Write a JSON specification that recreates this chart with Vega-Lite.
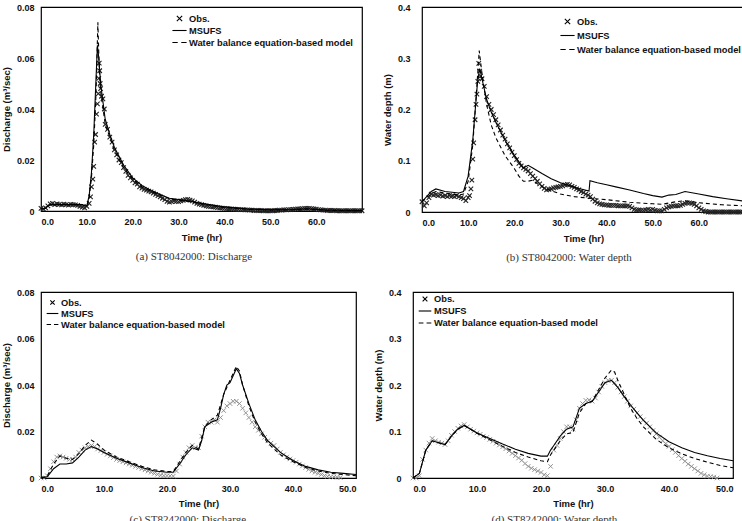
{
  "$schema": "https://vega.github.io/schema/vega-lite/v6.json",
  "background": "white",
  "padding": {"left": 0, "top": 2, "right": 0, "bottom": 0},
  "spacing": 23,
  "resolve": {"scale": {"shape": "independent"}, "legend": {"shape": "independent"}},
  "config": {
    "font": "Liberation Sans",
    "view": {"stroke": "black", "strokeWidth": 1.2},
    "axis": {"labelFont": "Liberation Sans", "labelFontWeight": "bold", "labelFontSize": 9, "labelColor": "#111", "titleFont": "Liberation Sans", "titleFontWeight": "bold", "titleFontSize": 9.5, "titleColor": "#111", "ticks": false, "domain": false, "grid": false},
    "legend": {"labelFont": "Liberation Sans", "labelFontWeight": "bold", "labelFontSize": 9.3, "labelColor": "#111", "labelLimit": 300, "labelOffset": 3, "symbolStrokeColor": "black", "symbolStrokeWidth": 1.1, "padding": 0, "rowPadding": 0, "title": null},
    "title": {"font": "Liberation Serif", "fontSize": 11, "fontWeight": "normal", "color": "#333", "orient": "bottom", "frame": "bounds", "anchor": "middle", "offset": 9}
  },
  "datasets": {
    "a_obs": [
      {"t":0,"v":0.001},{"t":0.5,"v":0.0008},{"t":1,"v":0.0012},{"t":1.5,"v":0.002},{"t":2,"v":0.0028},{"t":2.5,"v":0.003},{"t":3,"v":0.0025},{"t":3.5,"v":0.0028},{"t":4,"v":0.0026},{"t":4.5,"v":0.0024},{"t":5,"v":0.0027},{"t":5.5,"v":0.0025},{"t":6,"v":0.0023},{"t":6.5,"v":0.0026},{"t":7,"v":0.0025},{"t":7.5,"v":0.0024},{"t":8,"v":0.0022},{"t":8.5,"v":0.0018},{"t":9,"v":0.0015},{"t":9.5,"v":0.0012},{"t":10,"v":0.0018},{"t":10.5,"v":0.003},{"t":10.8,"v":0.0055},{"t":11,"v":0.0095},{"t":11.3,"v":0.0125},{"t":11.5,"v":0.0175},{"t":11.7,"v":0.027},{"t":11.9,"v":0.03},{"t":12.1,"v":0.038},{"t":12.3,"v":0.042},{"t":12.5,"v":0.046},{"t":12.6,"v":0.052},{"t":12.7,"v":0.058},{"t":12.8,"v":0.055},{"t":12.9,"v":0.05},{"t":13,"v":0.048},{"t":13.2,"v":0.045},{"t":13.5,"v":0.044},{"t":13.8,"v":0.04},{"t":14,"v":0.034},{"t":14.5,"v":0.032},{"t":15,"v":0.029},{"t":15.5,"v":0.027},{"t":16,"v":0.024},{"t":16.5,"v":0.022},{"t":17,"v":0.02},{"t":17.5,"v":0.019},{"t":18,"v":0.017},{"t":18.5,"v":0.0155},{"t":19,"v":0.014},{"t":19.5,"v":0.013},{"t":20,"v":0.012},{"t":20.5,"v":0.011},{"t":21,"v":0.0105},{"t":21.5,"v":0.0095},{"t":22,"v":0.009},{"t":22.5,"v":0.0085},{"t":23,"v":0.0082},{"t":23.5,"v":0.0078},{"t":24,"v":0.0075},{"t":24.5,"v":0.007},{"t":25,"v":0.0065},{"t":25.5,"v":0.006},{"t":26,"v":0.0055},{"t":26.5,"v":0.005},{"t":27,"v":0.0045},{"t":27.5,"v":0.0038},{"t":28,"v":0.0035},{"t":28.5,"v":0.0037},{"t":29,"v":0.004},{"t":29.5,"v":0.0038},{"t":30,"v":0.0037},{"t":30.5,"v":0.004},{"t":31,"v":0.0042},{"t":31.5,"v":0.0045},{"t":32,"v":0.0046},{"t":32.5,"v":0.0043},{"t":33,"v":0.004},{"t":33.5,"v":0.0035},{"t":34,"v":0.003},{"t":34.5,"v":0.0027},{"t":35,"v":0.0025},{"t":35.5,"v":0.0022},{"t":36,"v":0.002},{"t":36.5,"v":0.0018},{"t":37,"v":0.0017},{"t":37.5,"v":0.0016},{"t":38,"v":0.0015},{"t":38.5,"v":0.0013},{"t":39,"v":0.0012},{"t":39.5,"v":0.0011},{"t":40,"v":0.001},{"t":40.5,"v":0.0009},{"t":41,"v":0.0008},{"t":41.5,"v":0.0008},{"t":42,"v":0.0007},{"t":42.5,"v":0.0006},{"t":43,"v":0.0006},{"t":43.5,"v":0.0005},{"t":44,"v":0.0005},{"t":44.5,"v":0.0004},{"t":45,"v":0.0004},{"t":45.5,"v":0.0003},{"t":46,"v":0.0003},{"t":46.5,"v":0.0002},{"t":47,"v":0.0002},{"t":47.5,"v":0.0002},{"t":48,"v":0.0002},{"t":48.5,"v":0.0001},{"t":49,"v":0.0001},{"t":49.5,"v":0.0001},{"t":50,"v":0.0001},{"t":50.5,"v":0.0001},{"t":51,"v":0.0002},{"t":51.5,"v":0.0002},{"t":52,"v":0.0003},{"t":52.5,"v":0.0003},{"t":53,"v":0.0004},{"t":53.5,"v":0.0004},{"t":54,"v":0.0005},{"t":54.5,"v":0.0005},{"t":55,"v":0.0006},{"t":55.5,"v":0.0007},{"t":56,"v":0.0008},{"t":56.5,"v":0.0008},{"t":57,"v":0.0009},{"t":57.5,"v":0.001},{"t":58,"v":0.001},{"t":58.5,"v":0.001},{"t":59,"v":0.0009},{"t":59.5,"v":0.0008},{"t":60,"v":0.0007},{"t":60.5,"v":0.0005},{"t":61,"v":0.0004},{"t":61.5,"v":0.0003},{"t":62,"v":0.0003},{"t":62.5,"v":0.0002},{"t":63,"v":0.0002},{"t":63.5,"v":0.0002},{"t":64,"v":0.0002},{"t":64.5,"v":0.0001},{"t":65,"v":0.0001},{"t":65.5,"v":0.0001},{"t":66,"v":0.0001},{"t":66.5,"v":0.0001},{"t":67,"v":0.0001},{"t":67.5,"v":0.0001},{"t":68,"v":0.0001},{"t":68.5,"v":0.0001},{"t":69,"v":0.0001},{"t":69.5,"v":0.0001},{"t":70,"v":0.0001}
    ],
    "a_ms": [
      {"t":0,"v":0.001},{"t":1,"v":0.001},{"t":1.5,"v":0.002},{"t":2,"v":0.0025},{"t":9,"v":0.0025},{"t":9.5,"v":0.002},{"t":10,"v":0.002},{"t":10.5,"v":0.006},{"t":11,"v":0.015},{"t":11.5,"v":0.03},{"t":12,"v":0.052},{"t":12.3,"v":0.065},{"t":12.6,"v":0.06},{"t":13,"v":0.05},{"t":14,"v":0.036},{"t":15,"v":0.03},{"t":16,"v":0.025},{"t":18,"v":0.018},{"t":20,"v":0.013},{"t":22,"v":0.01},{"t":24,"v":0.008},{"t":26,"v":0.0065},{"t":28,"v":0.005},{"t":30,"v":0.0045},{"t":32,"v":0.004},{"t":35,"v":0.003},{"t":40,"v":0.0016},{"t":45,"v":0.0008},{"t":50,"v":0.0005},{"t":55,"v":0.0006},{"t":58,"v":0.0009},{"t":62,"v":0.0004},{"t":70,"v":0.0002}
    ],
    "a_wb": [
      {"t":0,"v":0.001},{"t":1,"v":0.001},{"t":1.5,"v":0.002},{"t":2,"v":0.0025},{"t":9,"v":0.0025},{"t":9.5,"v":0.002},{"t":10,"v":0.002},{"t":10.5,"v":0.005},{"t":11,"v":0.013},{"t":11.5,"v":0.026},{"t":12,"v":0.046},{"t":12.4,"v":0.074},{"t":12.7,"v":0.056},{"t":13,"v":0.047},{"t":14,"v":0.034},{"t":15,"v":0.029},{"t":16,"v":0.024},{"t":18,"v":0.017},{"t":20,"v":0.0125},{"t":22,"v":0.0095},{"t":24,"v":0.0077},{"t":26,"v":0.0062},{"t":28,"v":0.0048},{"t":30,"v":0.0043},{"t":32,"v":0.0038},{"t":35,"v":0.0028},{"t":40,"v":0.0014},{"t":45,"v":0.0007},{"t":50,"v":0.0004},{"t":55,"v":0.0005},{"t":58,"v":0.0008},{"t":62,"v":0.0003},{"t":70,"v":0.0001}
    ],
    "b_obs": [
      {"t":0,"v":0.02},{"t":0.5,"v":0.012},{"t":1,"v":0.018},{"t":1.5,"v":0.028},{"t":2,"v":0.035},{"t":2.5,"v":0.033},{"t":3,"v":0.034},{"t":3.5,"v":0.032},{"t":4,"v":0.033},{"t":4.5,"v":0.031},{"t":5,"v":0.032},{"t":5.5,"v":0.03},{"t":6,"v":0.032},{"t":6.5,"v":0.031},{"t":7,"v":0.03},{"t":7.5,"v":0.032},{"t":8,"v":0.03},{"t":8.5,"v":0.028},{"t":9,"v":0.026},{"t":9.5,"v":0.022},{"t":10,"v":0.028},{"t":10.3,"v":0.032},{"t":10.6,"v":0.045},{"t":10.8,"v":0.062},{"t":11,"v":0.103},{"t":11.2,"v":0.135},{"t":11.5,"v":0.18},{"t":11.7,"v":0.21},{"t":11.9,"v":0.23},{"t":12.1,"v":0.255},{"t":12.3,"v":0.29},{"t":12.5,"v":0.275},{"t":12.7,"v":0.265},{"t":13,"v":0.26},{"t":13.5,"v":0.245},{"t":14,"v":0.225},{"t":14.5,"v":0.21},{"t":15,"v":0.2},{"t":15.5,"v":0.19},{"t":16,"v":0.18},{"t":16.5,"v":0.17},{"t":17,"v":0.16},{"t":17.5,"v":0.15},{"t":18,"v":0.142},{"t":18.5,"v":0.133},{"t":19,"v":0.125},{"t":19.5,"v":0.117},{"t":20,"v":0.11},{"t":20.5,"v":0.102},{"t":21,"v":0.095},{"t":21.5,"v":0.09},{"t":22,"v":0.086},{"t":22.5,"v":0.083},{"t":23,"v":0.08},{"t":23.5,"v":0.075},{"t":24,"v":0.07},{"t":24.5,"v":0.065},{"t":25,"v":0.06},{"t":25.5,"v":0.055},{"t":26,"v":0.05},{"t":26.5,"v":0.046},{"t":27,"v":0.043},{"t":27.5,"v":0.044},{"t":28,"v":0.045},{"t":28.5,"v":0.047},{"t":29,"v":0.048},{"t":29.5,"v":0.049},{"t":30,"v":0.05},{"t":30.5,"v":0.051},{"t":31,"v":0.053},{"t":31.5,"v":0.054},{"t":32,"v":0.053},{"t":32.5,"v":0.05},{"t":33,"v":0.048},{"t":33.5,"v":0.045},{"t":34,"v":0.043},{"t":34.5,"v":0.04},{"t":35,"v":0.038},{"t":35.5,"v":0.035},{"t":36,"v":0.033},{"t":36.5,"v":0.03},{"t":37,"v":0.025},{"t":37.5,"v":0.021},{"t":38,"v":0.018},{"t":38.5,"v":0.016},{"t":39,"v":0.015},{"t":39.5,"v":0.014},{"t":40,"v":0.014},{"t":40.5,"v":0.013},{"t":41,"v":0.013},{"t":41.5,"v":0.013},{"t":42,"v":0.013},{"t":42.5,"v":0.012},{"t":43,"v":0.012},{"t":43.5,"v":0.012},{"t":44,"v":0.012},{"t":44.5,"v":0.012},{"t":45,"v":0.011},{"t":45.5,"v":0.008},{"t":46,"v":0.005},{"t":46.5,"v":0.004},{"t":47,"v":0.004},{"t":47.5,"v":0.003},{"t":48,"v":0.003},{"t":48.5,"v":0.004},{"t":49,"v":0.005},{"t":49.5,"v":0.004},{"t":50,"v":0.005},{"t":50.5,"v":0.003},{"t":51,"v":0.002},{"t":51.5,"v":0.002},{"t":52,"v":0.002},{"t":52.5,"v":0.005},{"t":53,"v":0.008},{"t":53.5,"v":0.01},{"t":54,"v":0.011},{"t":54.5,"v":0.012},{"t":55,"v":0.012},{"t":55.5,"v":0.012},{"t":56,"v":0.013},{"t":56.5,"v":0.015},{"t":57,"v":0.017},{"t":57.5,"v":0.018},{"t":58,"v":0.018},{"t":58.5,"v":0.017},{"t":59,"v":0.015},{"t":59.5,"v":0.012},{"t":60,"v":0.008},{"t":60.5,"v":0.005},{"t":61,"v":0.002},{"t":61.5,"v":0.001},{"t":62,"v":0},{"t":62.5,"v":0},{"t":63,"v":0},{"t":63.5,"v":0},{"t":64,"v":0},{"t":64.5,"v":0},{"t":65,"v":0},{"t":65.5,"v":0},{"t":66,"v":0},{"t":66.5,"v":0},{"t":67,"v":0},{"t":67.5,"v":0},{"t":68,"v":0},{"t":68.5,"v":0},{"t":69,"v":0},{"t":69.5,"v":0},{"t":70,"v":0}
    ],
    "b_ms": [
      {"t":0,"v":0.02},{"t":1,"v":0.03},{"t":2,"v":0.04},{"t":3,"v":0.045},{"t":5,"v":0.04},{"t":8,"v":0.037},{"t":9,"v":0.04},{"t":10,"v":0.07},{"t":11,"v":0.14},{"t":12,"v":0.25},{"t":12.5,"v":0.28},{"t":13,"v":0.26},{"t":14,"v":0.22},{"t":15,"v":0.195},{"t":16,"v":0.175},{"t":18,"v":0.14},{"t":20,"v":0.11},{"t":22,"v":0.086},{"t":23,"v":0.091},{"t":24,"v":0.086},{"t":26,"v":0.075},{"t":28,"v":0.065},{"t":30,"v":0.057},{"t":32,"v":0.051},{"t":34,"v":0.046},{"t":36.2,"v":0.041},{"t":36.4,"v":0.061},{"t":38,"v":0.057},{"t":40,"v":0.053},{"t":42,"v":0.049},{"t":45,"v":0.043},{"t":48,"v":0.036},{"t":50,"v":0.032},{"t":52,"v":0.029},{"t":53.5,"v":0.033},{"t":55,"v":0.034},{"t":57,"v":0.04},{"t":60,"v":0.035},{"t":63,"v":0.03},{"t":66,"v":0.026},{"t":70,"v":0.021}
    ],
    "b_wb": [
      {"t":0,"v":0.02},{"t":1,"v":0.028},{"t":2,"v":0.035},{"t":3,"v":0.04},{"t":5,"v":0.037},{"t":8,"v":0.033},{"t":9,"v":0.035},{"t":10,"v":0.06},{"t":11,"v":0.13},{"t":12,"v":0.26},{"t":12.4,"v":0.315},{"t":13,"v":0.27},{"t":14,"v":0.21},{"t":15,"v":0.17},{"t":16,"v":0.145},{"t":18,"v":0.11},{"t":20,"v":0.085},{"t":21,"v":0.07},{"t":22,"v":0.06},{"t":23,"v":0.06},{"t":24,"v":0.062},{"t":25,"v":0.055},{"t":27,"v":0.045},{"t":30,"v":0.035},{"t":33,"v":0.03},{"t":36,"v":0.027},{"t":40,"v":0.024},{"t":45,"v":0.019},{"t":50,"v":0.016},{"t":52,"v":0.015},{"t":55,"v":0.02},{"t":57,"v":0.022},{"t":60,"v":0.018},{"t":65,"v":0.014},{"t":70,"v":0.012}
    ],
    "c_obs": [
      {"t":0,"v":0},{"t":0.5,"v":0},{"t":1,"v":0.001},{"t":1.5,"v":0.004},{"t":2,"v":0.007},{"t":2.5,"v":0.009},{"t":3,"v":0.0095},{"t":3.5,"v":0.009},{"t":4,"v":0.0085},{"t":4.5,"v":0.008},{"t":5,"v":0.008},{"t":5.5,"v":0.009},{"t":6,"v":0.011},{"t":6.5,"v":0.012},{"t":7,"v":0.013},{"t":7.5,"v":0.0135},{"t":8,"v":0.014},{"t":8.5,"v":0.0135},{"t":9,"v":0.0125},{"t":9.5,"v":0.0118},{"t":10,"v":0.011},{"t":10.5,"v":0.0102},{"t":11,"v":0.0095},{"t":11.5,"v":0.0088},{"t":12,"v":0.008},{"t":12.5,"v":0.0075},{"t":13,"v":0.007},{"t":13.5,"v":0.0065},{"t":14,"v":0.006},{"t":14.5,"v":0.0055},{"t":15,"v":0.005},{"t":15.5,"v":0.0045},{"t":16,"v":0.004},{"t":16.5,"v":0.0035},{"t":17,"v":0.003},{"t":17.5,"v":0.0025},{"t":18,"v":0.002},{"t":18.5,"v":0.0016},{"t":19,"v":0.0012},{"t":19.5,"v":0.001},{"t":20,"v":0.001},{"t":20.5,"v":0.0009},{"t":21,"v":0.0008},{"t":21.5,"v":0.003},{"t":22,"v":0.006},{"t":22.5,"v":0.009},{"t":23,"v":0.011},{"t":23.5,"v":0.013},{"t":24,"v":0.014},{"t":24.5,"v":0.013},{"t":25,"v":0.013},{"t":25.5,"v":0.018},{"t":26,"v":0.022},{"t":26.5,"v":0.024},{"t":27,"v":0.024},{"t":27.5,"v":0.025},{"t":28,"v":0.024},{"t":28.5,"v":0.026},{"t":29,"v":0.029},{"t":29.5,"v":0.031},{"t":30,"v":0.032},{"t":30.5,"v":0.033},{"t":31,"v":0.033},{"t":31.5,"v":0.032},{"t":32,"v":0.03},{"t":32.5,"v":0.028},{"t":33,"v":0.026},{"t":33.5,"v":0.024},{"t":34,"v":0.022},{"t":34.5,"v":0.0205},{"t":35,"v":0.019},{"t":35.5,"v":0.0175},{"t":36,"v":0.016},{"t":36.5,"v":0.015},{"t":37,"v":0.014},{"t":37.5,"v":0.0125},{"t":38,"v":0.011},{"t":38.5,"v":0.01},{"t":39,"v":0.009},{"t":39.5,"v":0.0082},{"t":40,"v":0.0075},{"t":40.5,"v":0.0068},{"t":41,"v":0.006},{"t":41.5,"v":0.0052},{"t":42,"v":0.0045},{"t":42.5,"v":0.0037},{"t":43,"v":0.003},{"t":43.5,"v":0.0025},{"t":44,"v":0.002},{"t":44.5,"v":0.0015},{"t":45,"v":0.001},{"t":45.5,"v":0.0007},{"t":46,"v":0.0005},{"t":46.5,"v":0.0004},{"t":47,"v":0.0003},{"t":47.5,"v":0.0002}
    ],
    "c_ms": [
      {"t":0,"v":0},{"t":1,"v":0.0005},{"t":2,"v":0.004},{"t":3,"v":0.006},{"t":4,"v":0.006},{"t":5,"v":0.0065},{"t":6,"v":0.009},{"t":7,"v":0.012},{"t":8,"v":0.0135},{"t":9,"v":0.0125},{"t":10,"v":0.011},{"t":12,"v":0.0085},{"t":14,"v":0.0065},{"t":16,"v":0.0045},{"t":18,"v":0.003},{"t":20,"v":0.0025},{"t":21,"v":0.0025},{"t":22,"v":0.006},{"t":23,"v":0.01},{"t":24,"v":0.013},{"t":25,"v":0.012},{"t":25.5,"v":0.016},{"t":26,"v":0.022},{"t":27,"v":0.024},{"t":28,"v":0.025},{"t":28.5,"v":0.03},{"t":29,"v":0.036},{"t":29.5,"v":0.04},{"t":30,"v":0.041},{"t":30.5,"v":0.044},{"t":31,"v":0.047},{"t":31.5,"v":0.045},{"t":32,"v":0.04},{"t":33,"v":0.032},{"t":34,"v":0.025},{"t":35,"v":0.02},{"t":36,"v":0.016},{"t":38,"v":0.011},{"t":40,"v":0.0075},{"t":42,"v":0.005},{"t":44,"v":0.0035},{"t":46,"v":0.0025},{"t":48,"v":0.002},{"t":50,"v":0.0015}
    ],
    "c_wb": [
      {"t":0,"v":0},{"t":1,"v":0.001},{"t":2,"v":0.006},{"t":3,"v":0.0095},{"t":4,"v":0.0085},{"t":5,"v":0.008},{"t":6,"v":0.0105},{"t":7,"v":0.014},{"t":8,"v":0.0163},{"t":9,"v":0.0145},{"t":10,"v":0.012},{"t":12,"v":0.009},{"t":14,"v":0.007},{"t":16,"v":0.005},{"t":18,"v":0.0035},{"t":20,"v":0.0028},{"t":21,"v":0.0028},{"t":22,"v":0.007},{"t":23,"v":0.011},{"t":24,"v":0.014},{"t":25,"v":0.0125},{"t":26,"v":0.022},{"t":27,"v":0.025},{"t":28,"v":0.027},{"t":29,"v":0.036},{"t":30,"v":0.042},{"t":31,"v":0.048},{"t":31.5,"v":0.046},{"t":32,"v":0.04},{"t":33,"v":0.031},{"t":34,"v":0.024},{"t":35,"v":0.019},{"t":36,"v":0.015},{"t":38,"v":0.01},{"t":40,"v":0.007},{"t":42,"v":0.0045},{"t":44,"v":0.003},{"t":46,"v":0.002},{"t":48,"v":0.0015},{"t":50,"v":0.001}
    ],
    "d_obs": [
      {"t":0,"v":0},{"t":0.5,"v":0},{"t":1,"v":0.005},{"t":1.5,"v":0.04},{"t":2,"v":0.06},{"t":2.5,"v":0.075},{"t":3,"v":0.085},{"t":3.5,"v":0.08},{"t":4,"v":0.077},{"t":4.5,"v":0.075},{"t":5,"v":0.072},{"t":5.5,"v":0.08},{"t":6,"v":0.092},{"t":6.5,"v":0.1},{"t":7,"v":0.107},{"t":7.5,"v":0.112},{"t":8,"v":0.115},{"t":8.5,"v":0.11},{"t":9,"v":0.105},{"t":9.5,"v":0.101},{"t":10,"v":0.097},{"t":10.5,"v":0.094},{"t":11,"v":0.09},{"t":11.5,"v":0.087},{"t":12,"v":0.083},{"t":12.5,"v":0.079},{"t":13,"v":0.075},{"t":13.5,"v":0.071},{"t":14,"v":0.067},{"t":14.5,"v":0.063},{"t":15,"v":0.058},{"t":15.5,"v":0.053},{"t":16,"v":0.048},{"t":16.5,"v":0.043},{"t":17,"v":0.038},{"t":17.5,"v":0.031},{"t":18,"v":0.025},{"t":18.5,"v":0.021},{"t":19,"v":0.018},{"t":19.5,"v":0.015},{"t":20,"v":0.012},{"t":20.5,"v":0.007},{"t":21,"v":0.005},{"t":21.5,"v":0.025},{"t":22,"v":0.06},{"t":22.5,"v":0.07},{"t":23,"v":0.085},{"t":23.5,"v":0.1},{"t":24,"v":0.11},{"t":24.5,"v":0.11},{"t":25,"v":0.105},{"t":25.5,"v":0.125},{"t":26,"v":0.15},{"t":26.5,"v":0.16},{"t":27,"v":0.167},{"t":27.5,"v":0.168},{"t":28,"v":0.165},{"t":28.5,"v":0.172},{"t":29,"v":0.185},{"t":29.5,"v":0.197},{"t":30,"v":0.205},{"t":30.5,"v":0.21},{"t":31,"v":0.21},{"t":31.5,"v":0.205},{"t":32,"v":0.195},{"t":32.5,"v":0.185},{"t":33,"v":0.175},{"t":33.5,"v":0.165},{"t":34,"v":0.155},{"t":34.5,"v":0.148},{"t":35,"v":0.14},{"t":35.5,"v":0.132},{"t":36,"v":0.125},{"t":36.5,"v":0.118},{"t":37,"v":0.11},{"t":37.5,"v":0.102},{"t":38,"v":0.095},{"t":38.5,"v":0.088},{"t":39,"v":0.08},{"t":39.5,"v":0.074},{"t":40,"v":0.068},{"t":40.5,"v":0.061},{"t":41,"v":0.055},{"t":41.5,"v":0.048},{"t":42,"v":0.042},{"t":42.5,"v":0.036},{"t":43,"v":0.03},{"t":43.5,"v":0.025},{"t":44,"v":0.02},{"t":44.5,"v":0.015},{"t":45,"v":0.01},{"t":45.5,"v":0.007},{"t":46,"v":0.004},{"t":46.5,"v":0.003},{"t":47,"v":0.002},{"t":47.5,"v":0}
    ],
    "d_ms": [
      {"t":0,"v":0},{"t":1,"v":0.01},{"t":2,"v":0.06},{"t":3,"v":0.08},{"t":4,"v":0.076},{"t":5,"v":0.072},{"t":6,"v":0.09},{"t":7,"v":0.105},{"t":8,"v":0.113},{"t":9,"v":0.105},{"t":10,"v":0.097},{"t":12,"v":0.085},{"t":14,"v":0.073},{"t":16,"v":0.062},{"t":18,"v":0.053},{"t":20,"v":0.047},{"t":21,"v":0.047},{"t":21.5,"v":0.06},{"t":22,"v":0.07},{"t":23,"v":0.09},{"t":24,"v":0.105},{"t":25,"v":0.11},{"t":26,"v":0.15},{"t":27,"v":0.16},{"t":28,"v":0.165},{"t":29,"v":0.185},{"t":30,"v":0.205},{"t":31,"v":0.21},{"t":32,"v":0.195},{"t":33,"v":0.175},{"t":34,"v":0.157},{"t":35,"v":0.14},{"t":36,"v":0.124},{"t":38,"v":0.097},{"t":40,"v":0.078},{"t":42,"v":0.065},{"t":44,"v":0.055},{"t":46,"v":0.048},{"t":48,"v":0.042},{"t":50,"v":0.037}
    ],
    "d_wb": [
      {"t":0,"v":0},{"t":1,"v":0.01},{"t":2,"v":0.06},{"t":3,"v":0.08},{"t":4,"v":0.076},{"t":5,"v":0.072},{"t":6,"v":0.09},{"t":7,"v":0.105},{"t":8,"v":0.113},{"t":9,"v":0.105},{"t":10,"v":0.096},{"t":12,"v":0.082},{"t":14,"v":0.068},{"t":16,"v":0.055},{"t":18,"v":0.045},{"t":20,"v":0.037},{"t":21,"v":0.035},{"t":21.5,"v":0.05},{"t":22,"v":0.06},{"t":23,"v":0.08},{"t":24,"v":0.095},{"t":25,"v":0.098},{"t":26,"v":0.14},{"t":27,"v":0.16},{"t":28,"v":0.165},{"t":29,"v":0.19},{"t":30,"v":0.215},{"t":31,"v":0.232},{"t":31.5,"v":0.228},{"t":32,"v":0.21},{"t":33,"v":0.18},{"t":34,"v":0.15},{"t":35,"v":0.128},{"t":36,"v":0.11},{"t":38,"v":0.083},{"t":40,"v":0.065},{"t":42,"v":0.052},{"t":44,"v":0.042},{"t":46,"v":0.034},{"t":48,"v":0.027},{"t":50,"v":0.022}
    ]
  },
  "vconcat": [
    {
      "hconcat": [
        {
          "width": 321, "height": 204,
          "title": {"text": "(a) ST8042000: Discharge", "dx": 10},
          "encoding": {
            "x": {"field": "t", "type": "quantitative", "scale": {"domain": [0, 70], "nice": false}, "axis": {"values": [0,10,20,30,40,50,60], "format": ".1f", "title": "Time (hr)", "labelPadding": 6, "titlePadding": 6}},
            "y": {"field": "v", "type": "quantitative", "scale": {"domain": [0, 0.08], "nice": false}, "axis": {"values": [0,0.02,0.04,0.06,0.08], "labelExpr": "datum.value == 0 ? '0' : format(datum.value, '.2f')", "title": "Discharge (m³/sec)", "labelPadding": 7, "titlePadding": 5}}
          },
          "layer": [
            {"data": {"name": "a_obs"}, "mark": {"type": "point", "filled": false, "size": 100, "strokeWidth": 1.1, "color": "#222", "opacity": 1},
             "encoding": {"shape": {"datum": "Obs.", "scale": {"domain": ["Obs.", "MSUFS", "Water balance equation-based model"], "range": ["M-0.45,-0.45L0.45,0.45M-0.45,0.45L0.45,-0.45", "M-1.2,0H1.2", "M-1.2,0H-0.3M0.3,0H1.2"]}, "legend": {"orient": "none", "legendX": 132, "legendY": 5, "symbolSize": 140}}}},
            {"data": {"name": "a_ms"}, "mark": {"type": "line", "color": "black", "strokeWidth": 1.1}},
            {"data": {"name": "a_wb"}, "mark": {"type": "line", "color": "black", "strokeWidth": 1.1, "strokeDash": [4, 3]}}
          ]
        },
        {
          "width": 323, "height": 205,
          "title": {"text": "(b) ST8042000: Water depth", "dx": 3},
          "encoding": {
            "x": {"field": "t", "type": "quantitative", "scale": {"domain": [0, 70], "nice": false}, "axis": {"values": [0,10,20,30,40,50,60], "format": ".1f", "title": "Time (hr)", "labelPadding": 6, "titlePadding": 6}},
            "y": {"field": "v", "type": "quantitative", "scale": {"domain": [0, 0.4], "nice": false}, "axis": {"values": [0,0.1,0.2,0.3,0.4], "labelExpr": "datum.value == 0 ? '0' : format(datum.value, '.1f')", "title": "Water depth (m)", "labelPadding": 12, "titlePadding": 5}}
          },
          "layer": [
            {"data": {"name": "b_obs"}, "mark": {"type": "point", "filled": false, "size": 100, "strokeWidth": 1.1, "color": "#222", "opacity": 1},
             "encoding": {"shape": {"datum": "Obs.", "scale": {"domain": ["Obs.", "MSUFS", "Water balance equation-based model"], "range": ["M-0.45,-0.45L0.45,0.45M-0.45,0.45L0.45,-0.45", "M-1.2,0H1.2", "M-1.2,0H-0.3M0.3,0H1.2"]}, "legend": {"orient": "none", "legendX": 139, "legendY": 8, "symbolSize": 140, "rowPadding": 2}}}},
            {"data": {"name": "b_ms"}, "mark": {"type": "line", "color": "black", "strokeWidth": 1.1}},
            {"data": {"name": "b_wb"}, "mark": {"type": "line", "color": "black", "strokeWidth": 1.1, "strokeDash": [4, 3]}}
          ]
        }
      ],
      "spacing": 13,
      "resolve": {"scale": {"shape": "independent"}, "legend": {"shape": "independent"}}
    },
    {
      "hconcat": [
        {
          "width": 315, "height": 186,
          "title": {"text": "(c) ST8242000: Discharge", "dx": 8, "offset": 6},
          "encoding": {
            "x": {"field": "t", "type": "quantitative", "scale": {"domain": [0, 50], "nice": false}, "axis": {"values": [0,10,20,30,40,50], "format": ".1f", "title": "Time (hr)", "labelPadding": 6, "titlePadding": 5}},
            "y": {"field": "v", "type": "quantitative", "scale": {"domain": [0, 0.08], "nice": false}, "axis": {"values": [0,0.02,0.04,0.06,0.08], "labelExpr": "datum.value == 0 ? '0' : format(datum.value, '.2f')", "title": "Discharge (m³/sec)", "labelPadding": 7, "titlePadding": 5}}
          },
          "layer": [
            {"data": {"name": "c_obs"}, "mark": {"type": "point", "filled": false, "size": 100, "strokeWidth": 0.9, "color": "#888", "opacity": 1},
             "encoding": {"shape": {"datum": "Obs.", "scale": {"domain": ["Obs.", "MSUFS", "Water balance equation-based model"], "range": ["M-0.45,-0.45L0.45,0.45M-0.45,0.45L0.45,-0.45", "M-1.2,0H1.2", "M-1.2,0H-0.3M0.3,0H1.2"]}, "legend": {"orient": "none", "legendX": 6, "legendY": 5, "symbolSize": 95}}}},
            {"data": {"name": "c_ms"}, "mark": {"type": "line", "color": "black", "strokeWidth": 1.1}},
            {"data": {"name": "c_wb"}, "mark": {"type": "line", "color": "black", "strokeWidth": 1.1, "strokeDash": [4, 3]}}
          ]
        },
        {
          "width": 320, "height": 186,
          "title": {"text": "(d) ST8242000: Water depth", "offset": 6},
          "encoding": {
            "x": {"field": "t", "type": "quantitative", "scale": {"domain": [0, 50], "nice": false}, "axis": {"values": [0,10,20,30,40,50], "format": ".1f", "title": "Time (hr)", "labelPadding": 6, "titlePadding": 5}},
            "y": {"field": "v", "type": "quantitative", "scale": {"domain": [0, 0.4], "nice": false}, "axis": {"values": [0,0.1,0.2,0.3,0.4], "labelExpr": "datum.value == 0 ? '0' : format(datum.value, '.1f')", "title": "Water depth (m)", "labelPadding": 12, "titlePadding": 5}}
          },
          "layer": [
            {"data": {"name": "d_obs"}, "mark": {"type": "point", "filled": false, "size": 100, "strokeWidth": 0.9, "color": "#888", "opacity": 1},
             "encoding": {"shape": {"datum": "Obs.", "scale": {"domain": ["Obs.", "MSUFS", "Water balance equation-based model"], "range": ["M-0.45,-0.45L0.45,0.45M-0.45,0.45L0.45,-0.45", "M-1.2,0H1.2", "M-1.2,0H-0.3M0.3,0H1.2"]}, "legend": {"orient": "none", "legendX": 6, "legendY": 1, "symbolSize": 110}}}},
            {"data": {"name": "d_ms"}, "mark": {"type": "line", "color": "black", "strokeWidth": 1.1}},
            {"data": {"name": "d_wb"}, "mark": {"type": "line", "color": "black", "strokeWidth": 1.1, "strokeDash": [4, 3]}}
          ]
        }
      ],
      "spacing": 13,
      "resolve": {"scale": {"shape": "independent"}, "legend": {"shape": "independent"}}
    }
  ]
}
